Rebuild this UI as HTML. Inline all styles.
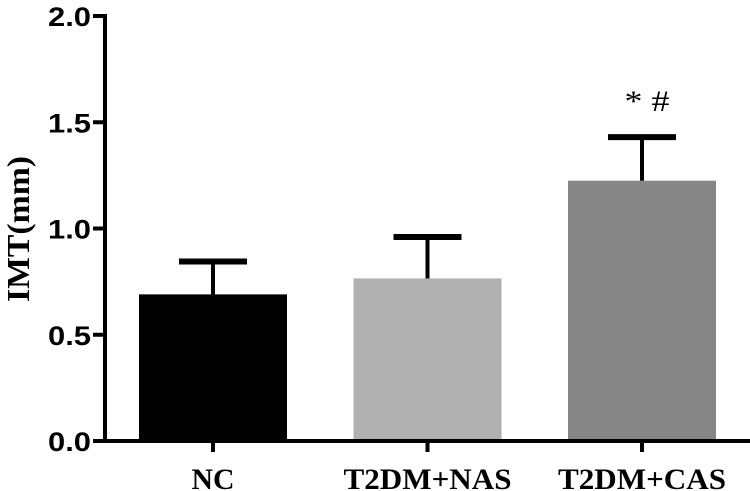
<!DOCTYPE html>
<html><head><meta charset="utf-8"><style>
html,body{margin:0;padding:0;background:#fff;}
svg{display:block;}
</style></head><body>
<svg width="750" height="491" viewBox="0 0 750 491">
<g id="chart"></g>
</svg>
<script>
const categories = ["NC", "T2DM+NAS", "T2DM+CAS"];
const means = [0.69, 0.765, 1.225];
const errors = [0.155, 0.195, 0.205];
const colors = ["#000000", "#b0b0b0", "#868686"];
const yTicks = [0.0, 0.5, 1.0, 1.5, 2.0];
const annotations = ["", "", "* #"];
const labelWidths = [43, 168, 168];

const NS = "http://www.w3.org/2000/svg";
const g = document.getElementById("chart");
const x0 = 105, y0 = 441, yTop = 16;
const yScale = v => y0 - (v / 2.0) * (y0 - yTop);
const band = 214.5, barW = 148, firstCenter = 213;
const xCenter = i => firstCenter + i * band;
function mk(tag, attrs){const e=document.createElementNS(NS,tag);for(const k in attrs)e.setAttribute(k,attrs[k]);g.appendChild(e);return e;}

categories.forEach((c,i)=>{
  const cx = xCenter(i), top = yScale(means[i]), et = yScale(means[i]+errors[i]);
  const bar = mk("rect",{x:cx-barW/2,y:top,width:barW,height:y0-top,fill:colors[i]});
  
  
  const stem = mk("line",{x1:cx,x2:cx,y1:top,y2:et,stroke:"#000","stroke-width":4});
  
  
  const cap = mk("line",{x1:cx-34,x2:cx+34,y1:et,y2:et,stroke:"#000","stroke-width":6});
  
  
  const tk = mk("line",{x1:cx,x2:cx,y1:y0,y2:452,stroke:"#000","stroke-width":4});
  
  
  const lb = mk("text",{x:cx,y:489,"text-anchor":"middle","font-family":"Liberation Serif, serif","font-weight":"bold","font-size":"30",textLength:labelWidths[i],lengthAdjust:"spacingAndGlyphs"});
  lb.textContent = c;
  
  
  if(annotations[i]){
    const an = mk("text",{x:cx+5,y:111,"text-anchor":"middle","font-family":"Liberation Serif, serif","font-size":"30",textLength:"45",lengthAdjust:"spacingAndGlyphs"});
    an.textContent = annotations[i];
    
    
  }
});

yTicks.forEach(v=>{
  const y = yScale(v);
  const t = mk("line",{x1:93,x2:x0,y1:y,y2:y,stroke:"#000","stroke-width":4});
  
  
  const l = mk("text",{x:91,y:y+10,"text-anchor":"end","font-family":"Liberation Sans, sans-serif","font-weight":"bold","font-size":"27",textLength:"43",lengthAdjust:"spacingAndGlyphs"});
  l.textContent = v.toFixed(1);
  
  
});

const ax = mk("line",{x1:x0,x2:x0,y1:yTop-2,y2:y0+2,stroke:"#000","stroke-width":4});


const xa = mk("line",{x1:x0-2,x2:750,y1:y0,y2:y0,stroke:"#000","stroke-width":4});


const yt = mk("text",{x:0,y:0,"text-anchor":"middle","font-family":"Liberation Serif, serif","font-weight":"bold","font-size":"32",textLength:"146",lengthAdjust:"spacingAndGlyphs",transform:"translate(29,229) rotate(-90)"});
yt.textContent = "IMT(mm)";


</script>
</body></html>
